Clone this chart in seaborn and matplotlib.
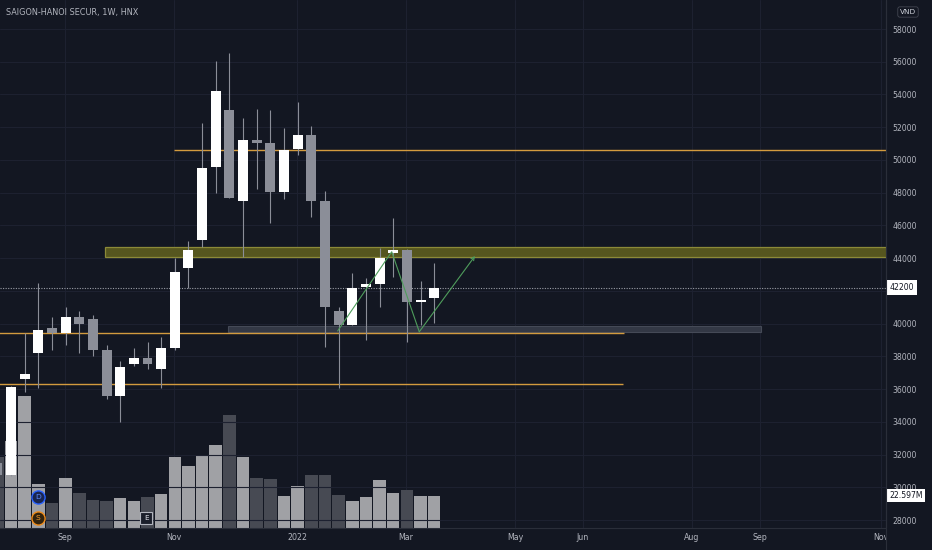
import matplotlib
matplotlib.use("Agg")
import matplotlib.pyplot as plt
import numpy as np
import pandas as pd
import seaborn as sns
from matplotlib.patches import Rectangle
from matplotlib.lines import Line2D
from matplotlib.transforms import blended_transform_factory as blend

# ---------------- data ----------------
bar_idx = list(range(-1, 32))
opens = [31500, 30750, 36600, 38200, 39710, 39430, 40400, 40300, 38390, 35600,
         37510, 37900, 37210, 38530, 43420, 45110, 49550, 53050, 47510, 51220,
         51040, 48040, 50650, 51520, 47500, 40790, 39930, 42240, 42420, 44330,
         44510, 41300, 41550]
highs = [31700, 36200, 39400, 42460, 40420, 41030, 40790, 40530, 38690, 37720,
         38490, 38890, 39200, 44010, 45070, 52280, 56060, 56550, 52540, 53090,
         53050, 51970, 53560, 52070, 48120, 41000, 43070, 42800, 44600, 46430,
         44550, 42600, 43720]
lows = [30500, 30700, 35840, 36050, 38390, 38690, 38190, 38020, 35380, 34010,
        37410, 37230, 36050, 38400, 42160, 44700, 47960, 47650, 44050, 48210,
        46130, 47610, 50300, 46530, 38590, 36050, 39910, 39000, 41030, 42870,
        38890, 39910, 40020]
closes = [30750, 36150, 36900, 39590, 39410, 40390, 40000, 38390, 35600, 37370,
          37900, 37510, 38490, 43170, 44500, 49530, 54230, 47690, 51220, 51040,
          48020, 50590, 51510, 47490, 41000, 39910, 42190, 42400, 43990, 44500,
          41300, 41420, 42200]
volumes_m = [49.6, 61.0, 92.7, 31.0, 17.2, 34.8, 24.7, 19.3, 18.8, 20.5,
             18.6, 21.2, 24.0, 50.1, 43.5, 51.3, 58.1, 79.5, 49.9, 35.3,
             34.1, 22.1, 29.4, 37.2, 37.2, 23.3, 18.4, 21.7, 33.2, 24.7,
             26.3, 21.9, 22.597]

month_pos = [-1.2, 3.96, 11.94, 20.95, 28.94, 36.92, 41.90, 49.89, 54.87, 63.7]
month_labels = ["Aug", "Sep", "Nov", "2022", "Mar", "May", "Jun", "Aug", "Sep", "Nov"]
price_ticks = list(range(28000, 58001, 2000))
hidden_tick_labels = [42000]   # covered by the last-price label

level_prices = [50600, 39440, 36310]
level_starts = [11.94, -5, -5]
level_ends = [70, 44.9, 44.8]

zone_yellow = dict(x0=6.89, x1=70, p0=44050, p1=44700)
zone_gray = dict(x0=15.87, x1=54.92, p0=39500, p1=39870)

path_idx = [23.93, 27.89, 29.91, 33.99]
path_price = [39550, 44390, 39500, 44130]

title_text = "SAIGON-HANOI SECUR, 1W, HNX"
currency = "VND"

# ---------------- style ----------------
BG = "#131722"
GRID = "#1d2130"
TXT = "#b2b5be"
UP = "#ffffff"
DOWN = "#8b8e98"
VUP = "#a0a1a5"
VDN = "#474a53"
ORANGE = "#d39b3e"
GREEN = "#4f9d5c"

sns.set_theme(style="dark", rc={
    "axes.facecolor": BG, "figure.facecolor": BG,
    "axes.edgecolor": "#2a2e39", "grid.color": GRID,
    "text.color": TXT, "xtick.color": TXT, "ytick.color": TXT,
})
plt.rcParams["font.family"] = ["DejaVu Sans"]

W, H = 932, 550
fig = plt.figure(figsize=(W / 100, H / 100), dpi=100)
ax_l, ax_b, ax_w, ax_h = 0, 22.5, 886, 527.5
ax = fig.add_axes([ax_l / W, ax_b / H, ax_w / W, ax_h / H])

df = pd.DataFrame({"idx": bar_idx, "vol": volumes_m,
                   "dir": ["up" if c >= o else "down" for o, c in zip(opens, closes)]})

# volume (seaborn)
sns.barplot(data=df, x="idx", y="vol", hue="dir", palette={"up": VUP, "down": VDN},
            native_scale=True, dodge=False, width=0.92, saturation=1,
            errorbar=None, legend=False, linewidth=0, ax=ax)
ax.set_xlim(-0.806, 64.10)
ax.set_ylim(0, 372.5)
ax.set_xlabel("")
ax.set_ylabel("")
ax.set_yticks([])
ax.set_xticks(month_pos)
ax.set_xticklabels(month_labels, fontsize=5.7, color=TXT)
ax.tick_params(axis="x", length=0, pad=4.0)
ax.grid(axis="x", color=GRID, lw=0.8)
ax.grid(axis="y", visible=False)
for s in ["top", "left"]:
    ax.spines[s].set_visible(False)
for s in ["bottom", "right"]:
    ax.spines[s].set_color("#2a2e39")
    ax.spines[s].set_linewidth(0.8)

# price axis
ax2 = ax.twinx()
ax2.set_ylim(27542, 59772)
ax2.set_xlim(-0.806, 64.10)
ax2.set_yticks(price_ticks)
ax2.set_yticklabels(["" if p in hidden_tick_labels else str(p) for p in price_ticks],
                    fontsize=5.6, color=TXT, ha="left")
ax2.tick_params(axis="y", length=0, pad=4.8)
ax2.grid(axis="y", color=GRID, lw=0.8)
ax2.grid(axis="x", visible=False)
for s in ax2.spines.values():
    s.set_visible(False)

# drawings
ax2.add_patch(Rectangle((zone_yellow["x0"], zone_yellow["p0"]),
                        zone_yellow["x1"] - zone_yellow["x0"], zone_yellow["p1"] - zone_yellow["p0"],
                        fc="#56561f", ec="#8c8a38", lw=0.9, zorder=1))
ax2.add_patch(Rectangle((zone_gray["x0"], zone_gray["p0"]),
                        zone_gray["x1"] - zone_gray["x0"], zone_gray["p1"] - zone_gray["p0"],
                        fc="#333845", ec="#454a57", lw=0.8, zorder=1))
for p, a, b in zip(level_prices, level_starts, level_ends):
    ax2.hlines(p, a, b, color=ORANGE, lw=1.0, zorder=1.2)

ax2.axhline(closes[-1], color="#9a9da6", ls=(0, (1, 1.3)), lw=0.8, zorder=1.1)

# candles
idx = np.array(bar_idx)
o = np.array(opens); c = np.array(closes)
hi = np.array(highs); lo = np.array(lows)
up = c >= o
ax2.vlines(idx, lo, hi, color=DOWN, lw=0.8, zorder=2)
body_lo = np.minimum(o, c)
body_h = np.maximum(np.abs(c - o), 120)
ax2.bar(idx[up], body_h[up], bottom=body_lo[up], width=0.73, color=UP, lw=0, zorder=3)
ax2.bar(idx[~up], body_h[~up], bottom=body_lo[~up], width=0.73, color=DOWN, lw=0, zorder=3)

# projected path
ax2.plot(path_idx[:3], path_price[:3], color=GREEN, lw=0.8, zorder=4)
ax2.annotate("", xy=(path_idx[3], path_price[3]), xytext=(path_idx[2], path_price[2]),
             arrowprops=dict(arrowstyle="->", color=GREEN, lw=0.8, shrinkA=0, shrinkB=0,
                             mutation_scale=6), zorder=4)

# badges
tb = blend(ax2.transData, ax2.transAxes)
ax2.plot([1.98], [0.0578], marker="o", ms=9.5, mfc="#1a2650", mec="#2962ff", mew=1.0,
         transform=tb, zorder=6, clip_on=False)
ax2.text(1.98, 0.0578, "D", color="#5d8bff", fontsize=5.4, ha="center", va="center",
         transform=tb, zorder=7)
ax2.plot([1.98], [0.018], marker="o", ms=9.5, mfc="#33240f", mec="#f08c1a", mew=1.0,
         transform=tb, zorder=6, clip_on=False)
ax2.text(1.98, 0.018, "S", color="#f39a2c", fontsize=5.4, ha="center", va="center",
         transform=tb, zorder=7)
ax2.plot([9.915], [0.0171], marker="s", ms=8.8, mfc="#1b1f2b", mec="#b2b5be", mew=0.8,
         transform=tb, zorder=6, clip_on=False)
ax2.text(9.915, 0.0171, "E", color="#e0e3eb", fontsize=5.2, ha="center", va="center",
         transform=tb, zorder=7)

# right-side value labels
ax2.text(1.0 + 3.5 / ax_w, closes[-1], str(closes[-1]), transform=blend(ax2.transAxes, ax2.transData),
         fontsize=5.6, color="#131722", ha="left", va="center", zorder=8, clip_on=False,
         bbox=dict(boxstyle="square,pad=0.4", fc="white", ec="none"))
ax2.text(1.0 + 3 / ax_w, volumes_m[-1], f"{volumes_m[-1]:.3f}M",
         transform=blend(ax2.transAxes, ax.transData),
         fontsize=5.6, color="#131722", ha="left", va="center", zorder=8, clip_on=False,
         bbox=dict(boxstyle="square,pad=0.3", fc="white", ec="none"))

# cover beyond right edge in time-axis strip
fig.add_artist(Rectangle((ax_w / W, 0), (W - ax_w) / W, ax_b / H, transform=fig.transFigure,
                         fc=BG, ec="none", zorder=5))
fig.add_artist(Line2D([ax_w / W, ax_w / W], [0, 1], transform=fig.transFigure,
                      color="#2a2e39", lw=0.8, zorder=6))

fig.text(6 / W, 1 - 13 / H, title_text, fontsize=5.9, color=TXT, ha="left", va="center")
fig.text(908 / W, 1 - 12 / H, currency, fontsize=5.2, color="#d1d4dc", ha="center", va="center",
         bbox=dict(boxstyle="round,pad=0.3", fc=BG, ec="#434651", lw=0.6))

fig.savefig("out.png", dpi=100, facecolor=BG)
